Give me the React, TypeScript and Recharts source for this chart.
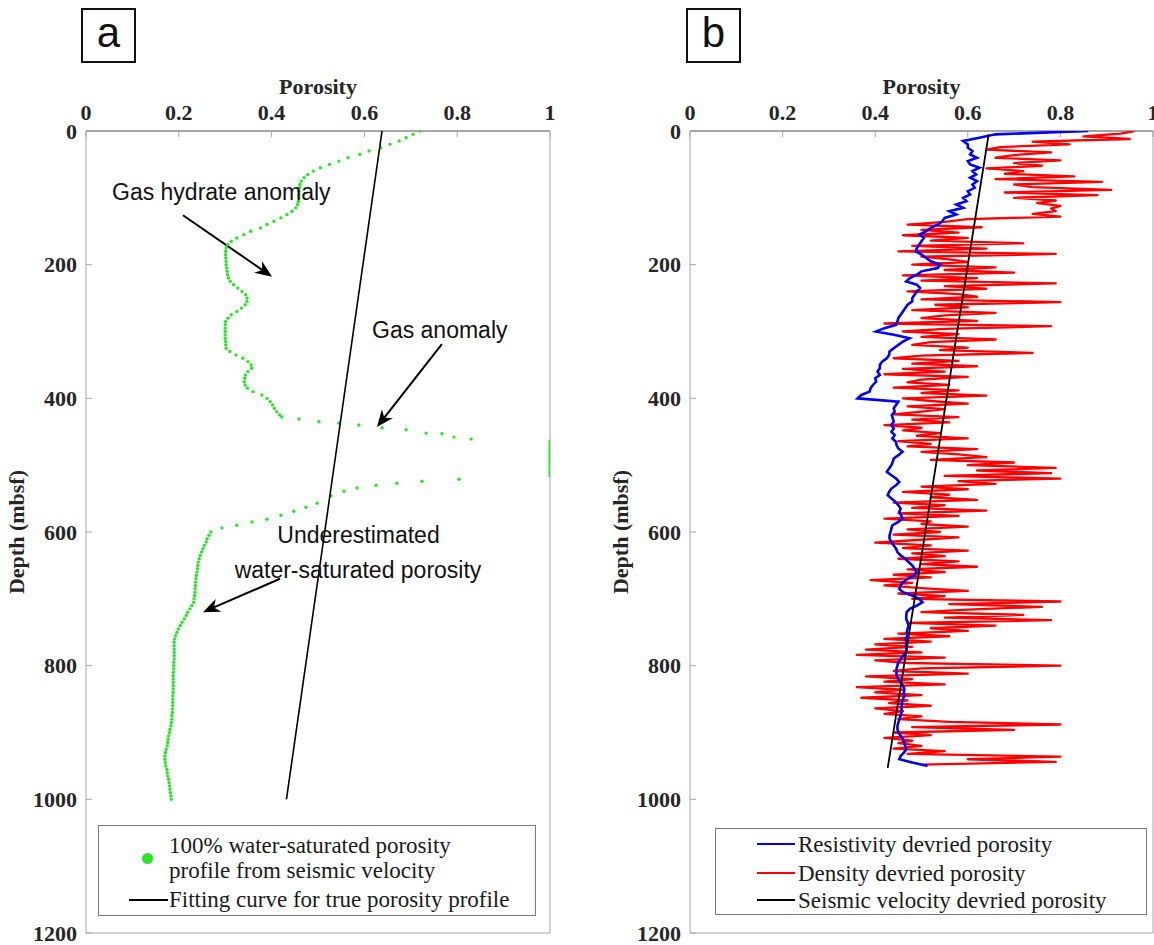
import React from "react";
import { ScatterChart, Scatter, XAxis, YAxis, ReferenceLine, Legend } from "recharts";

const SERIF = '"Liberation Serif", "Times New Roman", serif';
const SANS = '"Liberation Sans", Arial, sans-serif';
const AXIS_TEXT = "#262626";
const FRAME = "#a6a6a6";
const GREEN = "#26e626";

const porosityTicks = [0, 0.2, 0.4, 0.6, 0.8, 1];
const innerPorosityTicks = [0.2, 0.4, 0.6, 0.8];
const depthTicks = [0, 200, 400, 600, 800, 1000, 1200];
const innerDepthTicks = [200, 400, 600, 800, 1000];

// (a) 100% water-saturated porosity from seismic velocity, [depth m, porosity]
const seismicSaturated: [number, number][] = [
  [0, 0.72], [5, 0.705], [10, 0.69], [15, 0.675], [20, 0.655], [25, 0.635], [30, 0.61], [35, 0.59],
  [40, 0.565], [45, 0.545], [50, 0.525], [55, 0.505], [60, 0.49], [65, 0.478], [70, 0.47], [75, 0.464],
  [80, 0.461], [85, 0.46], [90, 0.459], [95, 0.459], [100, 0.459], [105, 0.458], [110, 0.456], [115, 0.452],
  [120, 0.444], [125, 0.433], [130, 0.42], [135, 0.405], [140, 0.39], [145, 0.376], [150, 0.355], [155, 0.34],
  [160, 0.325], [165, 0.313], [170, 0.305], [175, 0.302], [180, 0.301], [185, 0.301], [190, 0.301], [195, 0.302],
  [200, 0.302], [205, 0.303], [210, 0.304], [215, 0.305], [220, 0.307], [225, 0.311], [230, 0.318], [235, 0.327],
  [240, 0.336], [245, 0.344], [250, 0.347], [255, 0.347], [260, 0.343], [265, 0.335], [270, 0.325], [275, 0.313],
  [280, 0.306], [285, 0.301], [290, 0.3], [295, 0.3], [300, 0.3], [305, 0.3], [310, 0.3], [315, 0.301],
  [320, 0.301], [325, 0.302], [330, 0.31], [335, 0.323], [340, 0.338], [345, 0.349], [350, 0.356], [355, 0.357],
  [360, 0.349], [365, 0.344], [370, 0.342], [375, 0.341], [380, 0.343], [385, 0.348], [390, 0.36], [395, 0.379],
  [400, 0.39], [405, 0.397], [410, 0.402], [415, 0.406], [420, 0.411], [425, 0.417], [428, 0.422], [431, 0.459],
  [435, 0.502], [437, 0.545], [440, 0.588], [444, 0.638], [447, 0.69], [452, 0.733], [453, 0.767], [458, 0.793],
  [461, 0.83], [464, 1], [468, 1], [472, 1], [476, 1], [480, 1], [484, 1], [488, 1],
  [492, 1], [496, 1], [500, 1], [504, 1], [508, 1], [512, 1], [516, 1], [521, 0.804],
  [524, 0.724], [527, 0.67], [530, 0.625], [534, 0.584], [539, 0.556], [546, 0.528], [557, 0.498], [563, 0.474],
  [569, 0.448], [575, 0.42], [581, 0.39], [585, 0.358], [590, 0.325], [594, 0.293], [600, 0.269], [605, 0.265],
  [610, 0.261], [615, 0.259], [620, 0.255], [625, 0.252], [630, 0.249], [635, 0.246], [640, 0.244], [645, 0.242],
  [650, 0.241], [655, 0.24], [660, 0.239], [665, 0.238], [670, 0.237], [675, 0.236], [680, 0.236], [685, 0.235],
  [690, 0.235], [695, 0.234], [700, 0.233], [705, 0.232], [710, 0.228], [715, 0.224], [720, 0.219], [725, 0.216],
  [730, 0.212], [735, 0.207], [740, 0.203], [745, 0.199], [750, 0.196], [755, 0.193], [760, 0.191], [765, 0.19],
  [770, 0.19], [775, 0.19], [780, 0.19], [785, 0.19], [790, 0.19], [795, 0.189], [800, 0.189], [805, 0.189],
  [810, 0.188], [815, 0.188], [820, 0.188], [825, 0.188], [830, 0.188], [835, 0.188], [840, 0.188], [845, 0.187],
  [850, 0.187], [855, 0.187], [860, 0.187], [865, 0.186], [870, 0.186], [875, 0.185], [880, 0.185], [885, 0.184],
  [890, 0.183], [895, 0.181], [900, 0.18], [905, 0.178], [910, 0.177], [915, 0.176], [920, 0.175], [925, 0.173],
  [930, 0.171], [935, 0.17], [940, 0.17], [945, 0.171], [950, 0.172], [955, 0.174], [960, 0.175], [965, 0.176],
  [970, 0.178], [975, 0.179], [980, 0.18], [985, 0.181], [990, 0.182], [995, 0.183], [1000, 0.184],
];

// (a) fitted trend of the true porosity, end points [depth, porosity]
const trueTrend: [number, number][] = [[0, 0.638], [1000, 0.432]];

// (b) porosity logs, one value per sample interval from the seafloor
const resistivityStep = 5;
const resistivityPorosity = [
  0.86, 0.66, 0.625, 0.59, 0.6, 0.6, 0.61, 0.605, 0.62, 0.6,
  0.605, 0.625, 0.61, 0.618, 0.605, 0.62, 0.61, 0.615, 0.6, 0.605,
  0.59, 0.597, 0.575, 0.59, 0.56, 0.575, 0.55, 0.545, 0.535, 0.52,
  0.51, 0.496, 0.505, 0.5, 0.495, 0.49, 0.488, 0.5, 0.51, 0.52,
  0.54, 0.535, 0.5, 0.49, 0.475, 0.467, 0.49, 0.497, 0.49, 0.485,
  0.48, 0.48, 0.47, 0.465, 0.46, 0.455, 0.45, 0.448, 0.445, 0.42,
  0.402, 0.44, 0.474, 0.46, 0.45, 0.44, 0.431, 0.43, 0.425, 0.415,
  0.41, 0.41, 0.405, 0.41, 0.4, 0.402, 0.395, 0.39, 0.388, 0.37,
  0.362, 0.45, 0.445, 0.44, 0.442, 0.436, 0.438, 0.44, 0.435, 0.44,
  0.435, 0.442, 0.437, 0.445, 0.446, 0.45, 0.459, 0.45, 0.44, 0.438,
  0.435, 0.43, 0.425, 0.435, 0.445, 0.452, 0.445, 0.435, 0.43, 0.427,
  0.435, 0.444, 0.45, 0.455, 0.452, 0.456, 0.459, 0.45, 0.437, 0.435,
  0.433, 0.431, 0.431, 0.435, 0.44, 0.445, 0.448, 0.455, 0.465, 0.472,
  0.48, 0.485, 0.489, 0.485, 0.47, 0.46, 0.455, 0.452, 0.46, 0.48,
  0.495, 0.502, 0.49, 0.475, 0.468, 0.467, 0.467, 0.47, 0.472, 0.47,
  0.468, 0.47, 0.465, 0.468, 0.466, 0.467, 0.467, 0.46, 0.455, 0.45,
  0.448, 0.446, 0.446, 0.446, 0.45, 0.455, 0.46, 0.463, 0.462, 0.463,
  0.46, 0.458, 0.457, 0.457, 0.457, 0.455, 0.452, 0.45, 0.448, 0.448,
  0.45, 0.455, 0.46, 0.462, 0.465, 0.467, 0.462, 0.455, 0.452, 0.48,
  0.513,
];

const densityStep = 4;
const densityPorosity = [
  0.96, 0.93, 0.85, 0.95, 0.74, 0.82, 0.67, 0.64, 0.78, 0.7,
  0.66, 0.8, 0.7, 0.76, 0.64, 0.72, 0.68, 0.83, 0.66, 0.89,
  0.7, 0.74, 0.91, 0.68, 0.88, 0.7, 0.79, 0.75, 0.8, 0.78,
  0.79, 0.74, 0.8, 0.6, 0.55, 0.47, 0.63, 0.5, 0.58, 0.46,
  0.6, 0.52, 0.72, 0.48, 0.64, 0.45, 0.79, 0.5, 0.56, 0.6,
  0.48, 0.66, 0.55, 0.7, 0.46, 0.62, 0.5, 0.79, 0.55, 0.64,
  0.47, 0.58, 0.62, 0.5, 0.8, 0.53, 0.6, 0.48, 0.66, 0.55,
  0.5, 0.62, 0.42, 0.78, 0.55, 0.46, 0.58, 0.5, 0.66, 0.52,
  0.48, 0.6, 0.54, 0.74, 0.5, 0.44, 0.58, 0.48, 0.62, 0.46,
  0.55, 0.42, 0.6, 0.5, 0.47, 0.56, 0.44, 0.58, 0.5, 0.64,
  0.46, 0.52, 0.6, 0.47, 0.55, 0.5, 0.44, 0.58, 0.48, 0.56,
  0.42, 0.5, 0.46, 0.54, 0.49, 0.6, 0.45, 0.52, 0.47, 0.62,
  0.5, 0.58, 0.64, 0.52, 0.7, 0.6, 0.79, 0.62, 0.78, 0.55,
  0.8, 0.58, 0.66, 0.5, 0.6, 0.46, 0.56, 0.52, 0.62, 0.44,
  0.55, 0.48, 0.64, 0.45, 0.58, 0.42, 0.52, 0.5, 0.6, 0.47,
  0.54, 0.44, 0.58, 0.49, 0.4, 0.52, 0.46, 0.6, 0.48, 0.55,
  0.45, 0.58, 0.5, 0.62, 0.47, 0.55, 0.44, 0.52, 0.39, 0.48,
  0.42, 0.5, 0.6, 0.45, 0.55, 0.48, 0.8, 0.56, 0.76, 0.6,
  0.5, 0.72, 0.55, 0.78, 0.47, 0.66, 0.52, 0.6, 0.45, 0.56,
  0.42, 0.52, 0.4, 0.48, 0.38, 0.5, 0.36, 0.55, 0.4, 0.47,
  0.8, 0.5, 0.44, 0.6, 0.38, 0.48, 0.42, 0.55, 0.36, 0.46,
  0.4, 0.5, 0.37, 0.47, 0.43, 0.52, 0.4, 0.46, 0.42, 0.5,
  0.45, 0.56, 0.8, 0.48, 0.7, 0.44, 0.52, 0.42, 0.48, 0.45,
  0.5, 0.44, 0.55, 0.47, 0.8, 0.6, 0.79, 0.5,
];

// (b) seismic-velocity porosity trend, end points [depth, porosity]
const seismicTrend: [number, number][] = [[5, 0.645], [953, 0.427]];

// annotation arrows of panel a, tail then head, [porosity, depth]
const hydrateArrow: [number, number][] = [[0.209, 126], [0.401, 218]];
const gasArrow: [number, number][] = [[0.767, 319], [0.627, 443]];
const underArrow: [number, number][] = [[0.418, 670], [0.252, 720]];

const pairs = (rows: [number, number][]) => rows.map(([depth, phi]) => ({ depth, phi }));
const sampled = (values: number[], step: number) => values.map((phi, i) => ({ depth: i * step, phi }));

const seismicPoints = pairs(seismicSaturated);
const trueTrendPoints = pairs(trueTrend);
const resistivityPoints = sampled(resistivityPorosity, resistivityStep);
const densityPoints = sampled(densityPorosity, densityStep);
const seismicTrendPoints = pairs(seismicTrend);

const tickStyle = { fill: AXIS_TEXT, fontSize: 22, fontWeight: 700, fontFamily: SERIF };
const titleStyle = { fill: AXIS_TEXT, fontSize: 22, fontWeight: 700, fontFamily: SERIF };

const NoMarker = () => <g />;
const GreenDot = (p: any) => <circle cx={p.cx} cy={p.cy} r={1.7} fill={GREEN} />;

// line with a notched arrow head at (x2, y2)
const Arrow = (p: any) => {
  const { x1, y1, x2, y2 } = p;
  const len = Math.hypot(x2 - x1, y2 - y1) || 1;
  const ux = (x2 - x1) / len;
  const uy = (y2 - y1) / len;
  const head = 17;
  const half = 7;
  const notch = 5;
  const bx = x2 - ux * head;
  const by = y2 - uy * head;
  const nx = x2 - ux * (head - notch);
  const ny = y2 - uy * (head - notch);
  const pts = `${x2},${y2} ${bx - uy * half},${by + ux * half} ${nx},${ny} ${bx + uy * half},${by - ux * half}`;
  return (
    <g>
      <line x1={x1} y1={y1} x2={nx} y2={ny} stroke="#000" strokeWidth={2} />
      <polygon points={pts} fill="#000" />
    </g>
  );
};

function frameAxes() {
  return [
    <XAxis
      key="x-top"
      xAxisId="top"
      orientation="top"
      type="number"
      dataKey="phi"
      domain={[0, 1]}
      allowDataOverflow
      ticks={porosityTicks}
      interval={0}
      height={30}
      tickSize={-6}
      tickMargin={17}
      tickLine={{ stroke: FRAME }}
      axisLine={{ stroke: "#4d4d4d" }}
      tick={tickStyle}
      tickFormatter={(v: number) => String(v)}
      label={{ value: "Porosity", position: "top", offset: 7, style: titleStyle }}
    />,
    <XAxis
      key="x-bottom"
      xAxisId="bottom"
      orientation="bottom"
      mirror
      type="number"
      domain={[0, 1]}
      allowDataOverflow
      ticks={innerPorosityTicks}
      interval={0}
      tick={false}
      tickSize={6}
      tickLine={{ stroke: FRAME }}
      axisLine={{ stroke: FRAME }}
    />,
    <YAxis
      key="y-left"
      yAxisId="left"
      orientation="left"
      type="number"
      dataKey="depth"
      reversed
      domain={[0, 1200]}
      allowDataOverflow
      ticks={depthTicks}
      interval={0}
      width={80}
      tickSize={-6}
      tickMargin={15}
      tickLine={{ stroke: FRAME }}
      axisLine={{ stroke: FRAME }}
      tick={tickStyle}
      label={{
        value: "Depth (mbsf)",
        angle: -90,
        position: "insideLeft",
        offset: 10,
        style: { ...titleStyle, textAnchor: "middle" },
      }}
    />,
    <YAxis
      key="y-right"
      yAxisId="right"
      orientation="right"
      mirror
      type="number"
      reversed
      domain={[0, 1200]}
      allowDataOverflow
      ticks={innerDepthTicks}
      interval={0}
      tick={false}
      tickSize={6}
      tickLine={{ stroke: FRAME }}
      axisLine={{ stroke: FRAME }}
    />,
  ];
}

const legendBox: React.CSSProperties = {
  position: "relative",
  boxSizing: "border-box",
  border: "1px solid #7a7a7a",
  background: "#fff",
  fontFamily: SERIF,
  fontSize: 23,
  color: "#1a1a1a",
  whiteSpace: "nowrap",
};

const LegendA = () => (
  <div style={{ ...legendBox, width: 438, height: 91 }}>
    <span
      style={{ position: "absolute", left: 43, top: 27, width: 11, height: 11, borderRadius: "50%", background: GREEN }}
    />
    <div style={{ position: "absolute", left: 70, top: 7, lineHeight: "25px" }}>
      100% water-saturated porosity
      <br />
      profile from seismic velocity
    </div>
    <span style={{ position: "absolute", left: 30, top: 73, width: 39, height: 2, background: "#000" }} />
    <div style={{ position: "absolute", left: 70, top: 61, lineHeight: "25px" }}>
      Fitting curve for true porosity profile
    </div>
  </div>
);

const logLegend = [
  { label: "Resistivity devried porosity", color: "#0000ff", y: 15 },
  { label: "Density devried porosity", color: "#ff0000", y: 44 },
  { label: "Seismic velocity devried porosity", color: "#000000", y: 71 },
];

const LegendB = () => (
  <div style={{ ...legendBox, width: 432, height: 87 }}>
    {logLegend.map((item) => (
      <React.Fragment key={item.label}>
        <span style={{ position: "absolute", left: 41, top: item.y - 1, width: 38, height: 2, background: item.color }} />
        <div style={{ position: "absolute", left: 82, top: item.y - 12.5, lineHeight: "25px" }}>{item.label}</div>
      </React.Fragment>
    ))}
  </div>
);

const PanelTag = ({ text, left }: { text: string; left: number }) => (
  <div
    style={{
      position: "absolute",
      left,
      top: 8,
      width: 55,
      height: 55,
      boxSizing: "border-box",
      border: "2px solid #111",
      display: "flex",
      alignItems: "center",
      justifyContent: "center",
      fontFamily: SANS,
      fontSize: 42,
      lineHeight: 1,
      paddingBottom: 6,
      color: "#111",
    }}
  >
    {text}
  </div>
);

const chartMargin = { top: 101, right: 25, bottom: 12, left: 6 };

export default function App() {
  return (
    <div style={{ position: "absolute", left: 0, top: 0, width: 1154, height: 945, background: "#fff", overflow: "hidden" }}>
      <div style={{ position: "absolute", left: 0, top: 0, width: 575, height: 945 }}>
        <ScatterChart width={575} height={945} margin={chartMargin}>
          {frameAxes()}
          <Scatter
            name="100% water-saturated porosity profile from seismic velocity"
            xAxisId="top"
            yAxisId="left"
            data={seismicPoints}
            fill={GREEN}
            shape={GreenDot}
            isAnimationActive={false}
          />
          <Scatter
            name="Fitting curve for true porosity profile"
            xAxisId="top"
            yAxisId="left"
            data={trueTrendPoints}
            fill="#000"
            line={{ stroke: "#000", strokeWidth: 1.6 }}
            shape={NoMarker}
            isAnimationActive={false}
          />
          {[hydrateArrow, gasArrow, underArrow].map((a, i) => (
            <ReferenceLine
              key={i}
              xAxisId="top"
              yAxisId="left"
              segment={[{ x: a[0][0], y: a[0][1] }, { x: a[1][0], y: a[1][1] }]}
              ifOverflow="visible"
              shape={Arrow}
            />
          ))}
          <Legend
            layout="horizontal"
            verticalAlign="middle"
            align="center"
            wrapperStyle={{ left: 98, top: 825, width: 438, height: 91 }}
            content={() => <LegendA />}
          />
        </ScatterChart>
        <svg
          width={575}
          height={945}
          style={{ position: "absolute", left: 0, top: 0, pointerEvents: "none" }}
          fontFamily={SANS}
          fontSize={23}
          fill="#111"
        >
          <text x={112} y={200}>Gas hydrate anomaly</text>
          <text x={372} y={338}>Gas anomaly</text>
          <text x={358.5} y={543} textAnchor="middle">Underestimated</text>
          <text x={358} y={578} textAnchor="middle">water-saturated porosity</text>
        </svg>
        <PanelTag text="a" left={81} />
      </div>
      <div style={{ position: "absolute", left: 604, top: 0, width: 550, height: 945 }}>
        <ScatterChart width={550} height={945} margin={{ ...chartMargin, right: 1 }}>
          {frameAxes()}
          <Scatter
            name="Density devried porosity"
            xAxisId="top"
            yAxisId="left"
            data={densityPoints}
            fill="#ff0000"
            line={{ stroke: "#ff0000", strokeWidth: 2.3, strokeLinejoin: "round" }}
            shape={NoMarker}
            isAnimationActive={false}
          />
          <Scatter
            name="Resistivity devried porosity"
            xAxisId="top"
            yAxisId="left"
            data={resistivityPoints}
            fill="#0000ff"
            line={{ stroke: "#0000ff", strokeWidth: 2.6 }}
            shape={NoMarker}
            isAnimationActive={false}
          />
          <Scatter
            name="Seismic velocity devried porosity"
            xAxisId="top"
            yAxisId="left"
            data={seismicTrendPoints}
            fill="#000"
            line={{ stroke: "#000", strokeWidth: 1.8 }}
            shape={NoMarker}
            isAnimationActive={false}
          />
          <Legend
            layout="horizontal"
            verticalAlign="middle"
            align="center"
            wrapperStyle={{ left: 111, top: 828, width: 432, height: 87 }}
            content={() => <LegendB />}
          />
        </ScatterChart>
        <PanelTag text="b" left={82} />
      </div>
    </div>
  );
}
